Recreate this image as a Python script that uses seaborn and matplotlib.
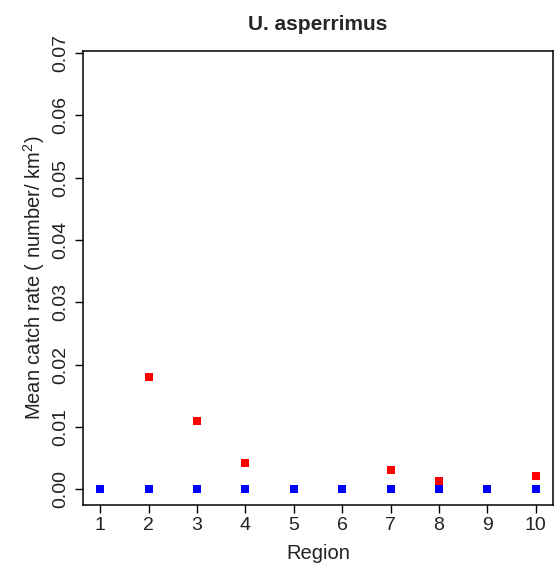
import numpy as np
import pandas as pd
import matplotlib
matplotlib.use("Agg")
import matplotlib.pyplot as plt
import seaborn as sns

# values
regions = [1, 2, 3, 4, 5, 6, 7, 8, 9, 10]
catch_red = [0.0, 0.018, 0.011, 0.0042, 0.0, 0.0, 0.0031, 0.0013, 0.0, 0.0022]
catch_blue = [0.0, 0.0, 0.0, 0.0, 0.0, 0.0, 0.0, 0.0, 0.0, 0.0]
y_ticks = [0.00, 0.01, 0.02, 0.03, 0.04, 0.05, 0.06, 0.07]

sns.set_style("ticks")
plt.rcParams['font.family'] = ['Liberation Sans', 'DejaVu Sans']
plt.rcParams['mathtext.fontset'] = 'custom'
plt.rcParams['mathtext.rm'] = 'Liberation Sans'
plt.rcParams['mathtext.it'] = 'Liberation Sans:italic'

df = pd.DataFrame({"region": regions, "red": catch_red, "blue": catch_blue})

fig = plt.figure(figsize=(5.55, 5.69), dpi=100)
ax = fig.add_axes([0.1495, 0.1125, 0.8469, 0.7979])

sns.scatterplot(data=df, x="region", y="red", marker="s", s=32, color="#ff0000",
                linewidth=0, ax=ax, zorder=3)
sns.scatterplot(data=df, x="region", y="blue", marker="s", s=32, color="#0000ff",
                linewidth=0, ax=ax, zorder=4)

ax.set_xlim(0.64, 10.36)
ax.set_ylim(-0.0025, 0.0703)
ax.set_xticks(regions)
ax.set_yticks(y_ticks)
ax.set_yticklabels([f"{v:.2f}" for v in y_ticks], rotation=90, va="center")
ax.tick_params(axis="both", labelsize=14, length=5.8, width=1, color="black",
               labelcolor="#222222")
ax.tick_params(axis="y", pad=4)
ax.tick_params(axis="x", pad=3)
for sp in ax.spines.values():
    sp.set_visible(True)
    sp.set_color("black")
    sp.set_linewidth(1.1)

ax.set_xlabel("Region", fontsize=14.5, color="#222222", labelpad=7)
ax.set_ylabel(r"Mean catch rate ( number/ km$^{2}$)", fontsize=14.5,
              color="#222222", labelpad=4)
ax.set_title("U. asperrimus", fontsize=15, fontweight="bold", pad=15)

fig.savefig("out.png", dpi=100)
